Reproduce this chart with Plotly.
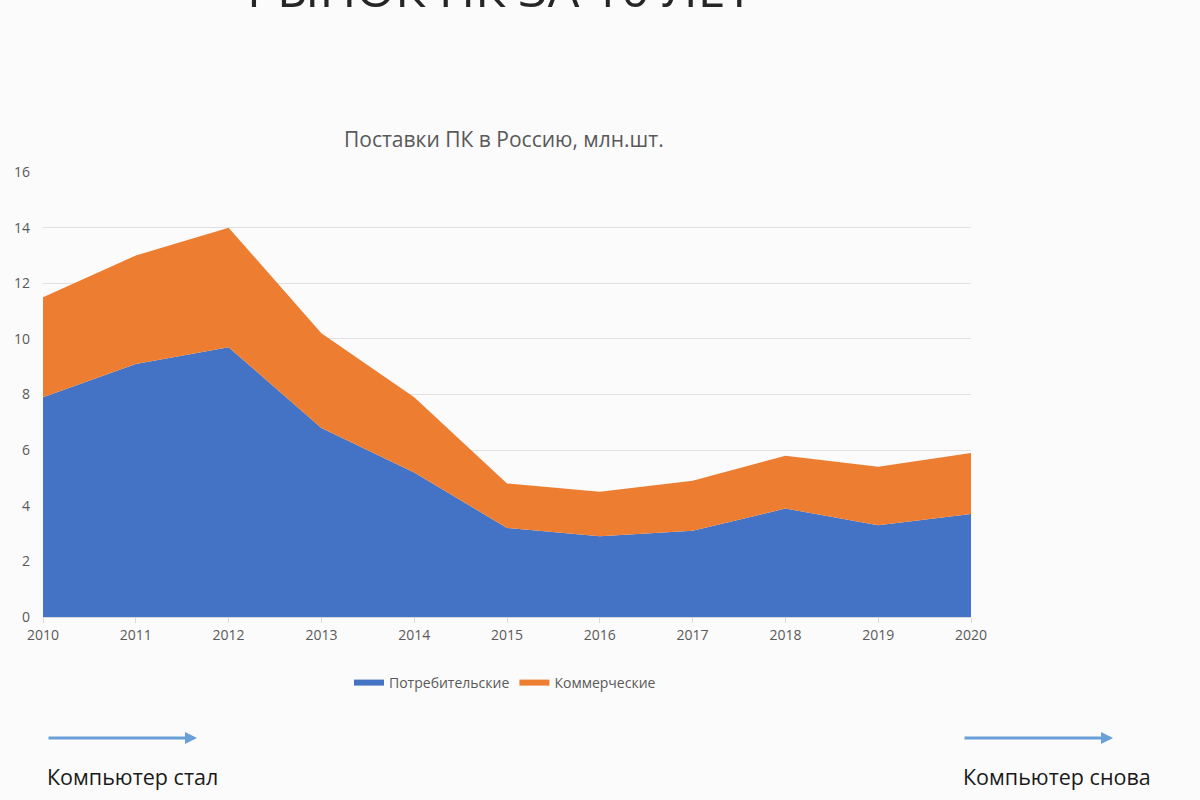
import plotly.graph_objects as go

years = [2010, 2011, 2012, 2013, 2014, 2015, 2016, 2017, 2018, 2019, 2020]
consumer = [7.9, 9.1, 9.7, 6.8, 5.2, 3.2, 2.9, 3.1, 3.9, 3.3, 3.7]
commercial = [3.6, 3.9, 4.3, 3.4, 2.7, 1.6, 1.6, 1.8, 1.9, 2.1, 2.2]
y_ticks = [0, 2, 4, 6, 8, 10, 12, 14, 16]

grey = '#595959'
font = 'Open Sans, Liberation Sans, sans-serif'

fig = go.Figure()
fig.add_trace(go.Scatter(x=years, y=consumer, name='Потребительские',
                         stackgroup='one', mode='none', fillcolor='#4472c4'))
fig.add_trace(go.Scatter(x=years, y=commercial, name='Коммерческие',
                         stackgroup='one', mode='none', fillcolor='#ed7d31'))

# plot area in paper units: y=0 at pixel 617, y=1 at pixel 172
def py(p):
    return (617 - p) / 445

def px(p):
    return (p - 43) / 928

annotations = [
    # slide title, cut off by the top edge as in the screenshot
    dict(text='РЫНОК ПК ЗА 10 ЛЕТ', x=px(500), y=py(-12), xref='paper', yref='paper',
         yanchor='middle', showarrow=False, font=dict(size=50, color='#262626', family=font)),
    dict(text='Поставки ПК в Россию, млн.шт.', x=px(504), y=py(139), xref='paper',
         yref='paper', yanchor='middle', showarrow=False,
         font=dict(size=21, color=grey, family=font)),
    dict(text='Компьютер стал', x=px(45), y=py(776), xref='paper', yref='paper',
         xanchor='left', yanchor='middle', showarrow=False,
         font=dict(size=21.5, color='#1a1a1a', family=font)),
    dict(text='Компьютер снова', x=px(961), y=py(776), xref='paper', yref='paper',
         xanchor='left', yanchor='middle', showarrow=False,
         font=dict(size=21.5, color='#1a1a1a', family=font)),
]
for head in (197, 1113):
    annotations.append(dict(x=px(head), y=py(738), xref='paper', yref='paper',
                            ax=-150, ay=0, axref='pixel', ayref='pixel', text='',
                            showarrow=True, arrowhead=2, arrowsize=0.8, arrowwidth=3,
                            arrowcolor='#6a9fd8'))

fig.update_layout(
    width=1200, height=800,
    margin=dict(l=43, r=229, t=172, b=183, autoexpand=False),
    paper_bgcolor='#fbfbfb', plot_bgcolor='#fbfbfb',
    font=dict(family=font, color=grey, size=14),
    showlegend=True,
    legend=dict(orientation='h', x=px(505), y=py(683), xanchor='center', yanchor='middle',
                traceorder='normal', font=dict(size=14, color=grey)),
    annotations=annotations,
)
fig.update_xaxes(range=[2010, 2020], tickvals=years, showgrid=False, zeroline=False,
                 showline=True, linecolor='#d9d9d9', ticks='outside', ticklen=5,
                 tickcolor='#d9d9d9', tickfont=dict(size=14, color=grey))
fig.update_yaxes(range=[0, 16], tickvals=y_ticks, showgrid=True, gridcolor='#e0e0e0',
                 zeroline=False, ticklabelstandoff=12, tickfont=dict(size=14, color=grey))

fig.write_html('out.html', config={'displayModeBar': False},
               post_script="document.body.style.margin='0';")
